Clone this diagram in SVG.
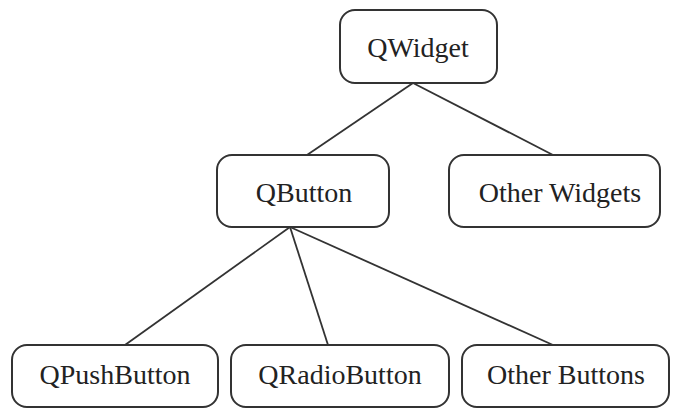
<svg xmlns="http://www.w3.org/2000/svg" width="674" height="408" viewBox="0 0 674 408">
<style>
.box{fill:#fff;stroke:#333;stroke-width:2}
.lbl{font-family:"Liberation Serif","Times New Roman",serif;font-size:28px;fill:#222;text-anchor:middle}
.edge{stroke:#333;stroke-width:1.8;fill:none}
</style>
<rect width="674" height="408" fill="#fff"/>
<g id="connectors">
<line class="edge" x1="413" y1="83" x2="307" y2="155"/>
<line class="edge" x1="413" y1="83" x2="553" y2="155"/>
<line class="edge" x1="290" y1="227" x2="125" y2="345"/>
<line class="edge" x1="290" y1="227" x2="328" y2="345"/>
<line class="edge" x1="290" y1="227" x2="553" y2="345"/>
</g>
<g id="qwidget"><rect class="box" x="340" y="10" width="157" height="73" rx="15"/><text class="lbl" x="418" y="57">QWidget</text></g>
<g id="qbutton"><rect class="box" x="217" y="155" width="172" height="72" rx="15"/><text class="lbl" x="304" y="202">QButton</text></g>
<g id="otherwidgets"><rect class="box" x="449" y="155" width="211" height="72" rx="15"/><text class="lbl" x="560" y="202">Other Widgets</text></g>
<g id="qpushbutton"><rect class="box" x="12" y="345" width="206" height="62" rx="15"/><text class="lbl" x="115" y="384">QPushButton</text></g>
<g id="qradiobutton"><rect class="box" x="231" y="345" width="218" height="62" rx="15"/><text class="lbl" x="340" y="384">QRadioButton</text></g>
<g id="otherbuttons"><rect class="box" x="462" y="345" width="207" height="62" rx="15"/><text class="lbl" x="566" y="384">Other Buttons</text></g>
</svg>
